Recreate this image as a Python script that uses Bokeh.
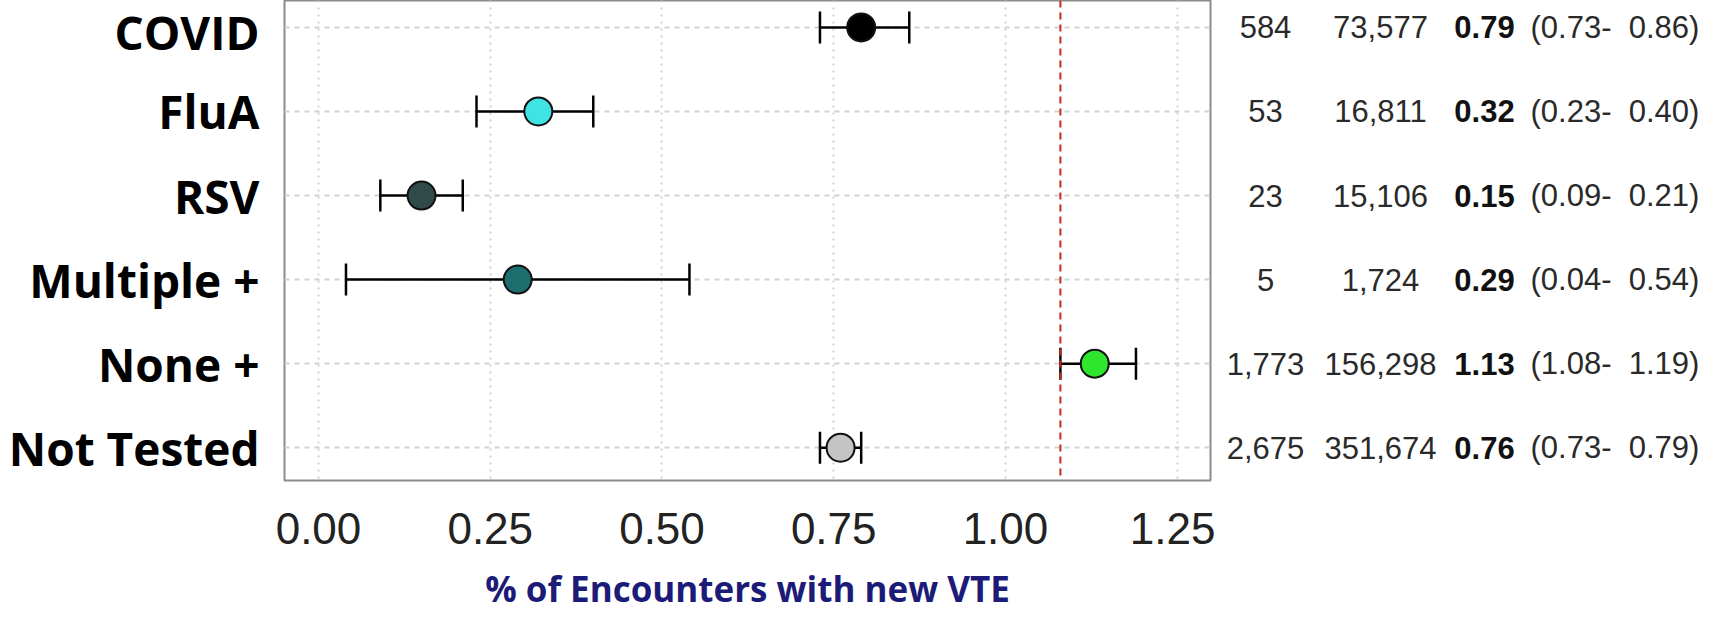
from bokeh.plotting import figure
from bokeh.models import (Range1d, FixedTicker, Whisker, TeeHead, ColumnDataSource,
                          Span, NumeralTickFormatter)
from bokeh.layouts import row
from bokeh.core.properties import value
from bokeh.embed import file_html
from bokeh.resources import INLINE

# ---------------- data ----------------
categories = ["COVID", "FluA", "RSV", "Multiple +", "None +", "Not Tested"]
events = [584, 53, 23, 5, 1773, 2675]
encounters = [73577, 16811, 15106, 1724, 156298, 351674]
pct = [0.79, 0.32, 0.15, 0.29, 1.13, 0.76]
lower = [0.73, 0.23, 0.09, 0.04, 1.08, 0.73]
upper = [0.86, 0.40, 0.21, 0.54, 1.19, 0.79]
colors = ["#000000", "#3fe3e3", "#2f4a48", "#1d6e6e", "#2ee62e", "#c4c4c4"]
ref_line = 1.08
x_ticks = [0.0, 0.25, 0.50, 0.75, 1.00, 1.25]
x_label = "% of Encounters with new VTE"

NB = "\u00a0"
ypos = list(range(len(categories)))
src = ColumnDataSource(dict(
    y=ypos, cat=categories, pct=pct, lower=lower, upper=upper, color=colors,
    ev=[f"{v:,}" for v in events],
    enc=[f"{v:,}" for v in encounters],
    est=[f"{v:.2f}" for v in pct],
    ci=[f"({a:.2f}-{NB}{NB}{b:.2f})" for a, b in zip(lower, upper)],
))

y_range = Range1d(5.39, -0.32)
H = 617
BOTTOM = 137

# ---------------- main forest plot ----------------
p = figure(width=1215, height=H, output_backend="svg", toolbar_location=None,
           x_range=Range1d(-0.0495, 1.2985), y_range=y_range,
           min_border_left=284, min_border_right=5, min_border_top=0,
           min_border_bottom=BOTTOM)
p.background_fill_color = "white"
p.border_fill_color = "white"
p.outline_line_color = "#8c8c8c"
p.outline_line_width = 2

# grids
p.xgrid.ticker = FixedTicker(ticks=x_ticks)
p.xgrid.grid_line_color = "#d2d2d2"
p.xgrid.grid_line_dash = "2 5"
p.xgrid.grid_line_width = 2
p.ygrid.ticker = FixedTicker(ticks=ypos)
p.ygrid.grid_line_color = "#d2d2d2"
p.ygrid.grid_line_dash = "5 5"
p.ygrid.grid_line_width = 2

# x axis
p.xaxis.ticker = FixedTicker(ticks=x_ticks)
p.xaxis.formatter = NumeralTickFormatter(format="0.00")
p.xaxis.axis_line_color = None
p.xaxis.major_tick_line_color = None
p.xaxis.minor_tick_line_color = None
p.xaxis.major_tick_out = 0
p.xaxis.major_tick_in = 0
p.xaxis.major_label_standoff = 32
p.xaxis.major_label_text_font = "Liberation Sans"
p.xaxis.major_label_text_font_size = "44px"
p.xaxis.major_label_text_color = "#222222"
p.xaxis.axis_label = x_label
p.xaxis.axis_label_text_font = "Open Sans"
p.xaxis.axis_label_text_font_style = "bold"
p.xaxis.axis_label_text_font_size = "35px"
p.xaxis.axis_label_text_color = "#1c1c78"
p.xaxis.axis_label_standoff = 18

# y axis
p.yaxis.ticker = FixedTicker(ticks=ypos)
p.yaxis.major_label_overrides = {i: c for i, c in zip(ypos, categories)}
p.yaxis.axis_line_color = None
p.yaxis.major_tick_line_color = None
p.yaxis.minor_tick_line_color = None
p.yaxis.major_tick_out = 0
p.yaxis.major_tick_in = 0
p.yaxis.major_label_standoff = 25
p.yaxis.major_label_text_font = "Open Sans"
p.yaxis.major_label_text_font_style = "bold"
p.yaxis.major_label_text_font_size = "46px"
p.yaxis.major_label_text_color = "#000000"

# reference line
p.add_layout(Span(location=ref_line, dimension="height", line_color="#c62828",
                  line_dash="7 5", line_width=2))

# error bars
wh = Whisker(source=src, base="y", lower="lower", upper="upper", dimension="width",
             line_color="black", line_width=2.5,
             lower_head=TeeHead(size=32, line_color="black", line_width=2.5),
             upper_head=TeeHead(size=32, line_color="black", line_width=2.5))
wh.level = "underlay"
p.add_layout(wh)

# points
p.scatter(x="pct", y="y", source=src, size=28, fill_color="color",
          line_color="#111111", line_width=2)

# ---------------- table ----------------
t = figure(width=487, height=H, output_backend="svg", toolbar_location=None,
           x_range=Range1d(0, 487), y_range=y_range,
           min_border_left=0, min_border_right=0, min_border_top=0,
           min_border_bottom=BOTTOM, x_axis_location=None, y_axis_location=None)
t.outline_line_color = None
t.grid.visible = False
t.background_fill_color = "white"
t.border_fill_color = "white"

fs = "31px"
col_x = dict(ev=50, enc=165, est=269, ci=315)
t.text(x=col_x["ev"], y="y", text="ev", source=src, text_align="center",
       text_baseline="middle", text_font=value("Liberation Sans"),
       text_font_size=fs, text_color="#2a2a2a")
t.text(x=col_x["enc"], y="y", text="enc", source=src, text_align="center",
       text_baseline="middle", text_font=value("Liberation Sans"),
       text_font_size=fs, text_color="#2a2a2a")
t.text(x=col_x["est"], y="y", text="est", source=src, text_align="center",
       text_baseline="middle", text_font=value("Liberation Sans"),
       text_font_size=fs, text_font_style="bold", text_color="#111111")
t.text(x=col_x["ci"], y="y", text="ci", source=src, text_align="left",
       text_baseline="middle", text_font=value("Liberation Sans"),
       text_font_size=fs, text_color="#2a2a2a")

layout = row(p, t)
open("out.html", "w").write(file_html(layout, INLINE))
